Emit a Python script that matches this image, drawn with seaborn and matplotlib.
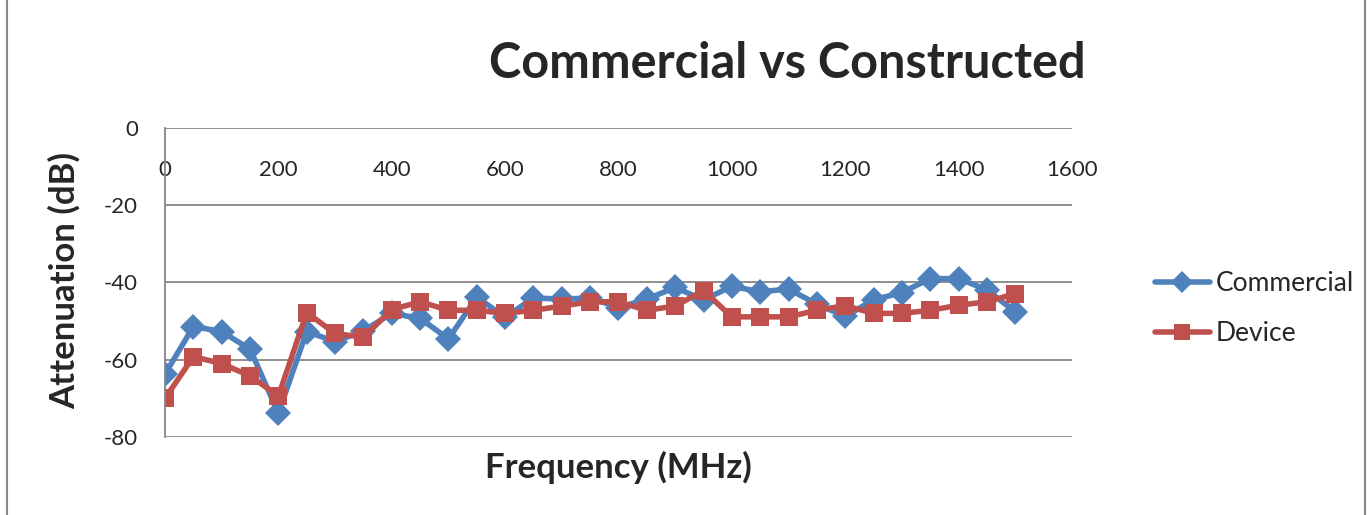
import pandas as pd
import matplotlib.pyplot as plt
import seaborn as sns

# values
freq = [0, 50, 100, 150, 200, 250, 300, 350, 400, 450, 500, 550, 600, 650, 700, 750,
        800, 850, 900, 950, 1000, 1050, 1100, 1150, 1200, 1250, 1300, 1350, 1400, 1450, 1500]
commercial = [-63.7, -51.4, -52.7, -57.3, -73.8, -52.7, -55.3, -52.5, -48.0, -49.3,
              -54.6, -43.8, -49.0, -44.0, -44.3, -44.0, -46.5, -44.3, -41.3, -44.5,
              -41.0, -42.4, -41.7, -45.6, -48.8, -44.5, -42.6, -39.0, -39.0, -41.9, -47.6]
device = [-70.0, -59.2, -61.0, -64.2, -69.4, -47.8, -53.2, -54.2, -47.0, -45.0,
          -47.2, -47.2, -48.0, -47.2, -46.1, -45.0, -45.0, -47.2, -46.1, -42.1,
          -48.9, -48.9, -48.9, -47.2, -46.0, -48.0, -48.0, -47.2, -45.9, -45.0, -42.9]
series_names = ['Commercial', 'Device']
colors = ['#4F81BD', '#C0504D']
x_ticks = [0, 200, 400, 600, 800, 1000, 1200, 1400, 1600]
y_ticks = [0, -20, -40, -60, -80]

df = pd.DataFrame({
    'Frequency': freq * 2,
    'Attenuation': commercial + device,
    'Series': [series_names[0]] * len(freq) + [series_names[1]] * len(freq),
})

sns.set_style('white')
plt.rcParams['font.family'] = ['Lato', 'DejaVu Sans']
plt.rcParams['axes.unicode_minus'] = False

fig = plt.figure(figsize=(13.72, 5.15), dpi=100)
ax = fig.add_axes([0.1203, 0.1515, 0.661, 0.6])

sns.lineplot(data=df, x='Frequency', y='Attenuation', hue='Series', style='Series',
             palette=dict(zip(series_names, colors)),
             markers={'Commercial': 'D', 'Device': 's'}, dashes=False,
             linewidth=4, markersize=13, markeredgewidth=0, ax=ax)

ax.set_xlim(0, 1600)
ax.set_ylim(-80, 0)
ax.set_xticks(x_ticks)
ax.set_yticks(y_ticks)
ax.yaxis.grid(True, color='#868686', linewidth=1.3)
ax.xaxis.grid(False)
for side in ['right', 'bottom', 'top']:
    ax.spines[side].set_visible(False)
ax.spines['left'].set_color('#868686')
ax.spines['left'].set_linewidth(1.3)
ax.tick_params(axis='x', top=False, bottom=False, labeltop=True, labelbottom=False,
               pad=-41, labelsize=16)
ax.tick_params(axis='y', left=False, labelsize=16, pad=16)

ax.set_xlabel('')
ax.set_ylabel('')
fig.text(0.451, 0.093, 'Frequency (MHz)', fontsize=25, fontweight='bold',
         ha='center', va='center')
fig.text(0.047, 0.456, 'Attenuation (dB)', fontsize=25, fontweight='bold',
         ha='center', va='center', rotation=90)
fig.text(0.574, 0.876, 'Commercial vs Constructed', fontsize=35, fontweight='bold',
         ha='center', va='center')

handles, labels = ax.get_legend_handles_labels()
ax.legend(handles, labels, loc='center left', bbox_to_anchor=(1.065, 0.416),
          frameon=False, fontsize=19, handlelength=2.1, handletextpad=0.2,
          labelspacing=0.95, markerscale=0.85)

# outer chart border
fig.patches.append(plt.Rectangle((0.005, -0.1), 0.99, 1.3, transform=fig.transFigure,
                                 fill=False, edgecolor='#868686', linewidth=1.5))

fig.savefig('out.png', dpi=100)
